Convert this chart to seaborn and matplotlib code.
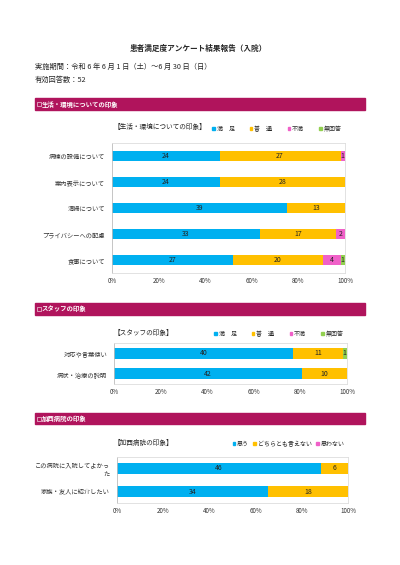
import numpy as np
import pandas as pd
import seaborn as sns
import matplotlib.pyplot as plt
from matplotlib.patches import Rectangle, Patch

# --- data ---
life_items = ["病棟の設備について", "案内表示について", "清掃について", "プライバシーへの配慮", "食事について"]
life_levels = ["満　足", "普　通", "不満", "無回答"]
life_manzoku = [24, 24, 39, 33, 27]
life_futsu = [27, 28, 13, 17, 20]
life_fuman = [1, 0, 0, 2, 4]
life_mukaito = [0, 0, 0, 0, 1]

staff_items = ["対応や言葉使い", "病状・治療の説明"]
staff_levels = ["満　足", "普　通", "不満", "無回答"]
staff_manzoku = [40, 42]
staff_futsu = [11, 10]
staff_fuman = [0, 0]
staff_mukaito = [1, 0]

hosp_items = ["この病院に入院してよかっ\nた", "家族・友人に紹介したい"]
hosp_levels = ["思う", "どちらとも言えない", "思わない"]
hosp_omou = [46, 34]
hosp_dochira = [6, 18]
hosp_omowanai = [0, 0]

pct_ticks = [0, 20, 40, 60, 80, 100]
colors = ["#00B0F0", "#FFC000", "#F060C8", "#92D050"]
banner_color = "#B0145C"

sns.set_style("white")
plt.rcParams['font.family'] = ['Noto Sans CJK JP', 'DejaVu Sans']

W, H = 400, 565
fig = plt.figure(figsize=(W / 100, H / 100), dpi=100)


def px_axes(x0, y0, x1, y1):
    return fig.add_axes([x0 / W, 1 - y1 / H, (x1 - x0) / W, (y1 - y0) / H])


def ftext(x, y, s, **kw):
    fig.text(x / W, 1 - y / H, s, **kw)


def banner(y0, y1, s):
    fig.patches.append(Rectangle((35 / W, 1 - y1 / H), 330 / W, (y1 - y0) / H,
                                 transform=fig.transFigure, color=banner_color))
    mid = (y0 + y1) / 2
    # small outlined square in front of the heading
    fig.patches.append(Rectangle((36.5 / W, 1 - (mid + 2) / H), 4 / W, 4 / H,
                                 transform=fig.transFigure, fill=False,
                                 edgecolor="white", linewidth=0.4))
    ftext(42, mid, s, color="white", fontsize=4.6, fontweight="bold",
          va="center", ha="left")


def stacked(ax, items, levels, series, bar_h):
    counts = np.array(series, dtype=float).T  # items x levels
    totals = counts.sum(axis=1)
    pct = counts / totals[:, None] * 100
    cum = pct.cumsum(axis=1)
    # draw from the right-most cumulative so earlier ones sit on top
    for j in range(len(levels) - 1, -1, -1):
        df = pd.DataFrame({"item": items, "val": cum[:, j]})
        sns.barplot(data=df, x="val", y="item", orient="h", color=colors[j],
                    width=bar_h, saturation=1, ax=ax, linewidth=0)
    for i in range(len(items)):
        left = 0
        for j in range(len(levels)):
            if counts[i, j] > 0:
                ax.text(left + pct[i, j] / 2, i, f"{int(counts[i, j])}",
                        ha="center", va="center", fontsize=5, color="#222222")
            left += pct[i, j]
    ax.set_xlim(0, 100)
    ax.set_ylim(len(items) - 0.5, -0.5)
    ax.set_xticks(pct_ticks)
    ax.set_xticklabels([f"{t}%" for t in pct_ticks], fontsize=4.5, color="#333333")
    ax.tick_params(axis="y", labelsize=4.5, length=0, labelcolor="#333333", pad=5)
    ax.tick_params(axis="x", length=0, pad=3)
    ax.set_xlabel("")
    ax.set_ylabel("")
    for sp in ["top", "right", "bottom"]:
        ax.spines[sp].set_color("#DDDDDD")
        ax.spines[sp].set_linewidth(0.6)
    ax.spines["left"].set_color("#BBBBBB")
    ax.spines["left"].set_linewidth(0.6)


def legend(levels, x, y, width):
    handles = [Patch(color=colors[j], label=levels[j]) for j in range(len(levels))]
    fig.legend(handles=handles, loc="center right", bbox_to_anchor=(x / W, 1 - y / H),
               ncol=len(levels), frameon=False, fontsize=4.3, handlelength=0.4,
               handleheight=0.4, handletextpad=0.3, columnspacing=width)


# --- header ---
ftext(198, 48, "患者満足度アンケート結果報告（入院）", fontsize=5.5, fontweight="bold",
      ha="center", va="center")
ftext(35, 67, "実施期間：令和 6 年 6 月 1 日（土）～6 月 30 日（日）", fontsize=5.2,
      va="center")
ftext(35, 80, "有効回答数：52", fontsize=5.2, va="center")

# --- section 1 ---
banner(98, 110, "生活・環境についての印象")
ftext(160, 127, "【生活・環境についての印象】", fontsize=4.8, ha="center", va="center")
legend(life_levels, 347, 129, 2.6)
ax1 = px_axes(112, 143, 345, 273)
stacked(ax1, life_items, life_levels,
        [life_manzoku, life_futsu, life_fuman, life_mukaito], 0.38)

# --- section 2 ---
banner(303, 315, "スタッフの印象")
ftext(143, 333, "【スタッフの印象】", fontsize=4.8, ha="center", va="center")
legend(staff_levels, 349, 334, 2.6)
ax2 = px_axes(114, 343, 347, 384)
stacked(ax2, staff_items, staff_levels,
        [staff_manzoku, staff_futsu, staff_fuman, staff_mukaito], 0.55)

# --- section 3 ---
banner(413, 424, "加西病院の印象")
ftext(143, 443, "【加西病院の印象】", fontsize=4.8, ha="center", va="center")
legend(hosp_levels, 350, 444, 0.8)
ax3 = px_axes(117, 457, 348, 503)
stacked(ax3, hosp_items, hosp_levels, [hosp_omou, hosp_dochira, hosp_omowanai], 0.52)

fig.savefig("out.png", dpi=100)
